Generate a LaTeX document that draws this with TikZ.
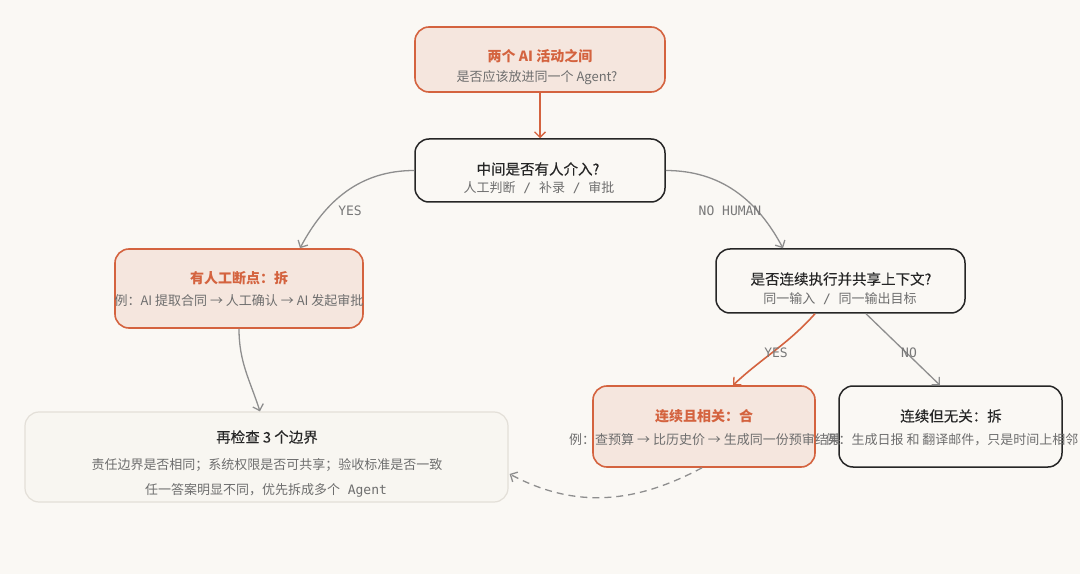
\documentclass[tikz,border=0pt]{standalone}
\usepackage{fontspec}
\setmainfont{Noto Sans CJK SC}
\newfontfamily\medfont[FakeBold=0.18]{Noto Sans CJK SC}
\newfontfamily\monofont{DejaVu Sans Mono}
\usetikzlibrary{arrows.meta,calc}
\definecolor{bg}{HTML}{FAF8F4}
\definecolor{acc}{HTML}{D4633F}
\definecolor{accfill}{HTML}{F5E6DE}
\definecolor{ink}{HTML}{262626}
\definecolor{subc}{HTML}{6E6E6E}
\definecolor{lnk}{HTML}{8E8E8E}
\definecolor{lblc}{HTML}{787878}
\definecolor{soft}{HTML}{E3DFD8}
\definecolor{softfill}{HTML}{F8F6F1}
\tikzset{
  accbox/.style={draw=acc, fill=accfill, line width=1.6pt, rounded corners=14pt, inner sep=0pt},
  inkbox/.style={draw=ink, fill=bg, line width=1.5pt, rounded corners=14pt, inner sep=0pt},
  softbox/.style={draw=soft, fill=softfill, line width=1.2pt, rounded corners=14pt, inner sep=0pt},
  acctitle/.style={text=acc, font=\fontsize{14}{16}\selectfont\bfseries, inner sep=0pt},
  inktitle/.style={text=ink, font=\fontsize{14.5}{16}\selectfont\medfont, inner sep=0pt},
  subtext/.style={text=subc, font=\fontsize{13}{15}\selectfont, inner sep=0pt},
  lbl/.style={text=lblc, font=\fontsize{13}{14}\selectfont\monofont, inner sep=0pt},
  tip/.style={-{Straight Barb[length=5.5pt,width=11pt,line width=1.3pt]}},
  grayline/.style={draw=lnk, line width=1.3pt, tip},
  accline/.style={draw=acc, line width=1.6pt, tip},
}
\begin{document}
\begin{tikzpicture}[x=1pt,y=1pt]
\fill[bg] (0,0) rectangle (1080,574);
\useasboundingbox (0,0) rectangle (1080,574);

% boxes
\node[accbox, minimum width=250pt, minimum height=65pt] (top) at (540,514.5) {};
\node[inkbox, minimum width=250pt, minimum height=63pt] (q1) at (540,403.5) {};
\node[accbox, minimum width=248pt, minimum height=79pt] (left) at (239,285.5) {};
\node[inkbox, minimum width=249pt, minimum height=64pt] (q2) at (840.5,293) {};
\node[accbox, minimum width=222pt, minimum height=81pt] (merge) at (704,147.5) {};
\node[inkbox, minimum width=223pt, minimum height=81pt] (split) at (950.5,147.5) {};
\node[softbox, minimum width=483pt, minimum height=90pt] (check) at (266.5,117) {};

% texts
\node[acctitle] (topT) at (540,518) {两个 AI 活动之间};
\node[subtext] (topS) at (537,496) {是否应该放进同一个 Agent?};
\node[inktitle] (q1T) at (538,405) {中间是否有人介入?};
\node[subtext] (q1S) at (539,386) {人工判断{\monofont\ /\ }补录{\monofont\ /\ }审批};
\node[acctitle] (leftT) at (239,296) {有人工断点：拆};
\node[subtext] (leftS) at (239,273) {例：AI 提取合同 → 人工确认 → AI 发起审批};
\node[inktitle] (q2T) at (841,295) {是否连续执行并共享上下文?};
\node[subtext] (q2S) at (840,275) {同一输入{\monofont\ /\ }同一输出目标};
\node[acctitle] (mergeT) at (704,158) {连续且相关：合};
\node[subtext] (mergeS) at (705,134) {例：查预算 → 比历史价 → 生成同一份预审结果};
\node[inktitle] (splitT) at (951,158) {连续但无关：拆};
\node[subtext] (splitS) at (952,134) {例：生成日报 和 翻译邮件，只是时间上相邻};
\node[inktitle] (checkT) at (267,137) {再检查 3 个边界};
\node[subtext] (checkS1) at (267,109) {责任边界是否相同；系统权限是否可共享；验收标准是否一致};
\node[subtext] (checkS2) at (266,84) {任一答案明显不同，优先拆成多个{\monofont\ Agent}};

% connector anchors
\coordinate (leftIn) at ($(left.north)+(61,0)$);
\coordinate (q2In) at ($(q2.north)+(-57.5,0)$);
\coordinate (q2OutL) at ($(q2.south)+(-25.5,0)$);
\coordinate (q2OutR) at ($(q2.south)+(25.5,0)$);
\coordinate (mergeIn) at ($(merge.north)+(29,0)$);
\coordinate (splitIn) at ($(split.north)+(-10.5,0)$);
\coordinate (checkIn) at ($(check.north)+(-6.5,0)$);
\coordinate (checkSide) at ($(check.east)+(1,-17)$);
\coordinate (mergeOut) at ($(merge.south)+(-2,0)$);

% connectors
\draw[accline] (top.south) -- (q1.north);
\draw[grayline] (q1.west) to[out=180,in=62] (leftIn);
\draw[grayline] (q1.east) to[out=0,in=118] (q2In);
\draw[accline] (q2OutL) to[out=-132,in=43] (mergeIn);
\draw[grayline] (q2OutR) -- (splitIn);
\draw[grayline] (left.south) to[out=-90,in=108] (checkIn);
\draw[grayline, dashed, dash pattern=on 7pt off 5pt] (mergeOut) to[out=-152,in=-28] (checkSide);

% labels
\node[lbl] (lYes) at (350,363) {YES};
\node[lbl] (lNoH) at (730,363) {NO HUMAN};
\node[lbl] (lYes2) at (776,221) {YES};
\node[lbl] (lNo) at (909,221) {NO};
\end{tikzpicture}
\end{document}
